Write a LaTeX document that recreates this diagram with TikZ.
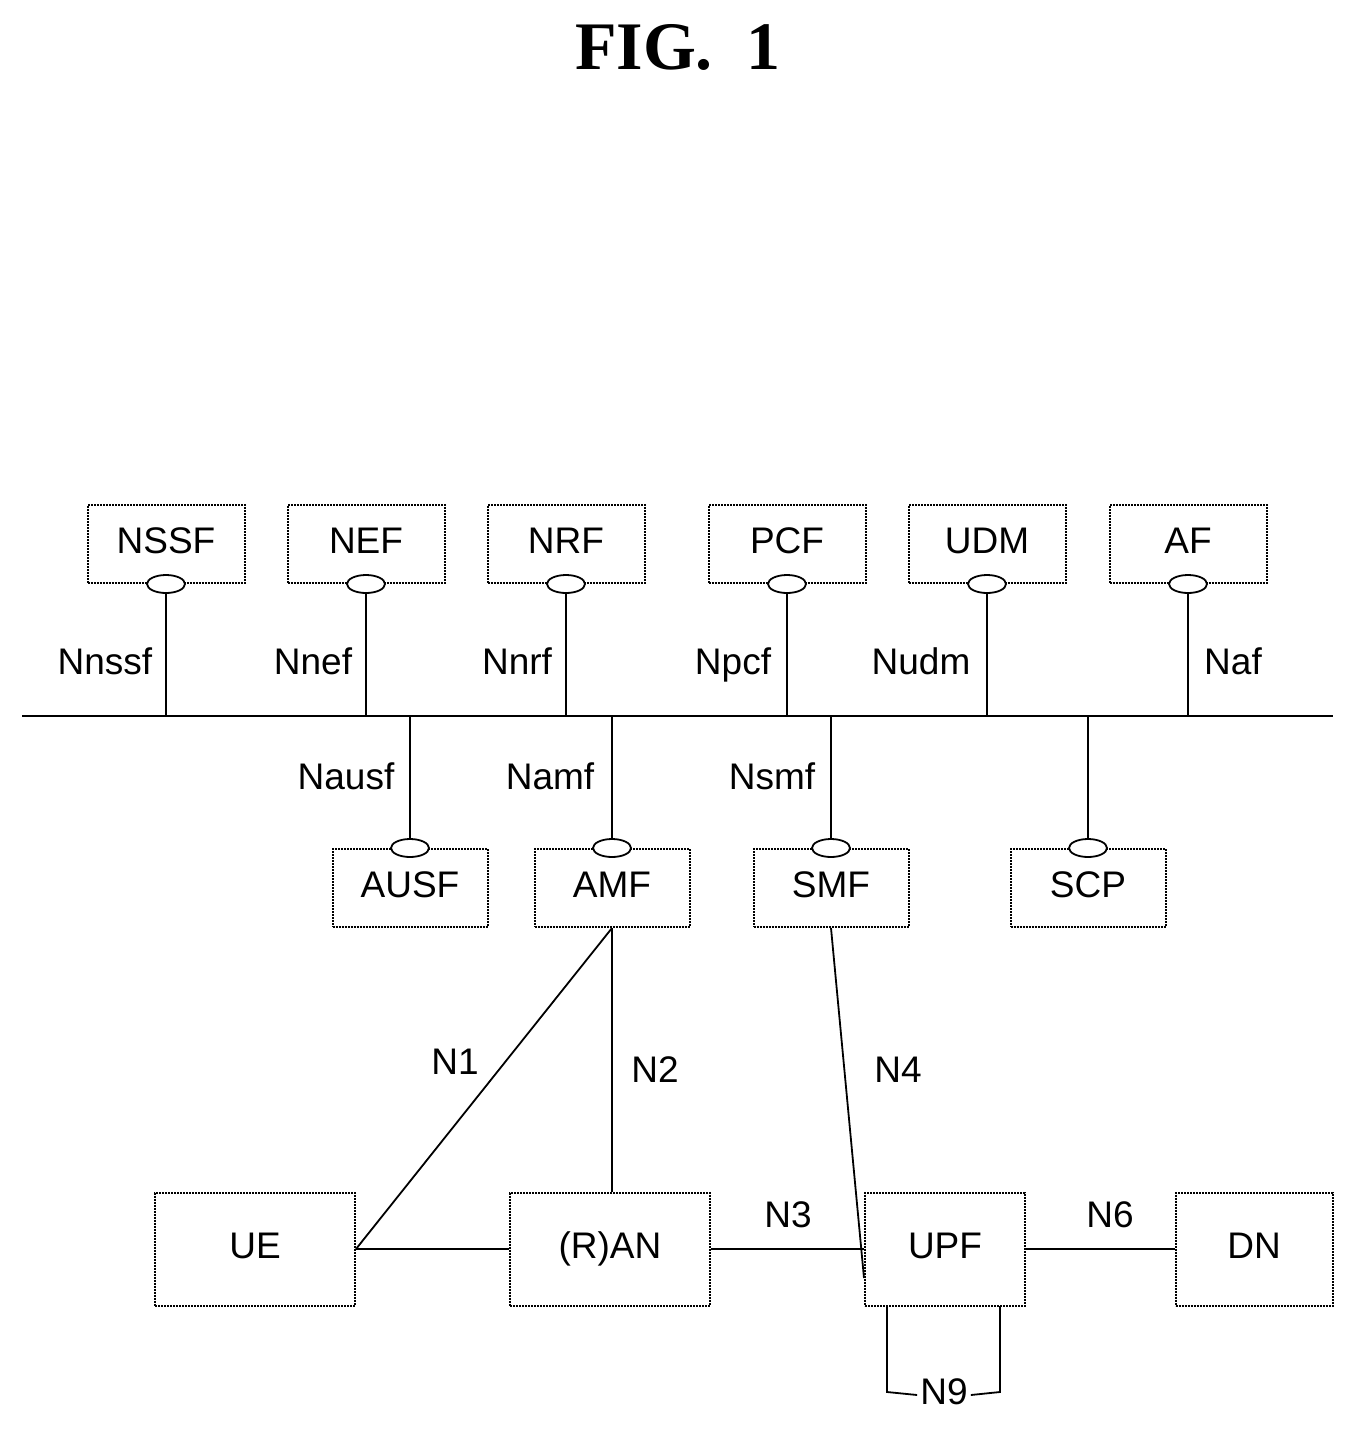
\documentclass[tikz,border=0pt]{standalone}
\usepackage{fontspec}
\usetikzlibrary{shapes.geometric}
\setmainfont{Liberation Sans}
\newfontfamily\titlefont{Liberation Serif}
\begin{document}
\begin{tikzpicture}[x=1pt,y=-1pt,
  box/.style={draw,line width=2pt,densely dotted,minimum height=78pt,inner sep=0pt,font=\fontsize{37}{37}\selectfont,text height=27pt,text depth=8pt},
  ell/.style={draw,line width=1.8pt,ellipse,minimum width=38pt,minimum height=18pt,inner sep=0pt,fill=white},
  ln/.style={line width=1.8pt},
  lab/.style={font=\fontsize{37}{37}\selectfont,text height=27pt,text depth=8pt}]
\useasboundingbox (0,0) rectangle (1355,1433);
\node[font=\titlefont\bfseries\fontsize{68}{68}\selectfont] (title) at (678,47) {FIG.\ \ 1};
% bus
\coordinate (bl) at (22,716); \coordinate (br) at (1333,716);
\draw[ln] (bl) -- (br);
% top boxes
\foreach \n/\t/\x in {nssf/NSSF/166,nef/NEF/366,nrf/NRF/566,pcf/PCF/787,udm/UDM/987,af/AF/1188}{
  \node[box,minimum width=157pt] (\n) at (\x,544) {\t};
  \coordinate (\n b) at (\x,716);
  \draw[ln] (\n.south) -- (\n b);
  \node[ell] (\n e) at (\n.south) {};
}
\node[lab] (l1) at (105,665) {Nnssf};
\node[lab] (l2) at (313,665) {Nnef};
\node[lab] (l3) at (517,665) {Nnrf};
\node[lab] (l4) at (733,665) {Npcf};
\node[lab] (l5) at (921,665) {Nudm};
\node[lab] (l6) at (1233,665) {Naf};
% lower boxes
\foreach \n/\t/\x in {ausf/AUSF/410,amf/AMF/612,smf/SMF/831,scp/SCP/1088}{
  \node[box,minimum width=155pt] (\n) at (\x,888) {\t};
  \coordinate (\n t) at (\x,716);
  \draw[ln] (\n t) -- (\n.north);
  \node[ell] (\n e) at (\n.north) {};
}
\node[lab] (l7) at (346,780) {Nausf};
\node[lab] (l8) at (550,780) {Namf};
\node[lab] (l9) at (772,780) {Nsmf};
% bottom
\node[box,minimum width=200pt,minimum height=113pt] (ue) at (255,1249) {UE};
\node[box,minimum width=200pt,minimum height=113pt] (ran) at (610,1249) {(R)AN};
\node[box,minimum width=160pt,minimum height=113pt] (upf) at (945,1249) {UPF};
\node[box,minimum width=157pt,minimum height=113pt] (dn) at (1254,1249) {DN};
\draw[ln] (ue.east) -- (ran.west);
\draw[ln] (ran.east) -- (upf.west);
\draw[ln] (upf.east) -- (dn.west);
\draw[ln] (amf.south) -- (ue.east);
\draw[ln] (amf.south) -- (amf.south |- ran.north);
\draw[ln] (smf.south) -- ([yshift=-29pt]upf.west);
\node[lab] (n1) at (455,1065) {N1};
\node[lab] (n2) at (655,1073) {N2};
\node[lab] (n4) at (898,1073) {N4};
\node[lab] (n3) at (788,1218) {N3};
\node[lab] (n6) at (1110,1218) {N6};
\node[lab,fill=white,inner sep=3pt] (n9) at (944,1395) {N9};
\coordinate (a) at (887,1306); \coordinate (b) at (1000,1306);
\draw[ln] (a) -- (887,1392) -- (n9.west);
\draw[ln] (b) -- (1000,1392) -- (n9.east);
\end{tikzpicture}
\end{document}
